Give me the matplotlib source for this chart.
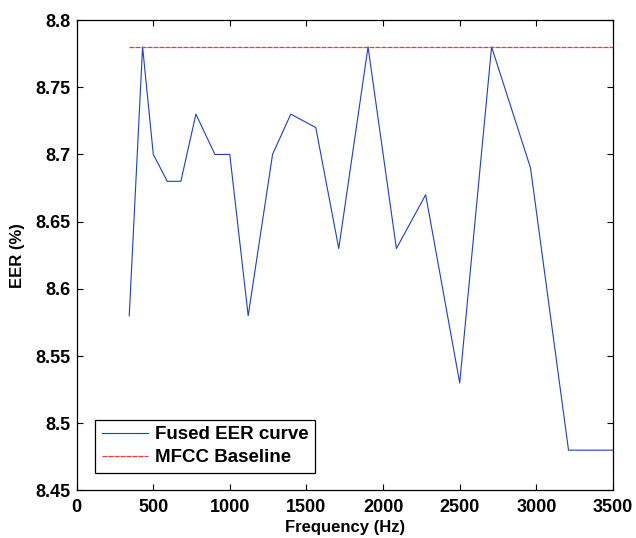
import matplotlib
matplotlib.use("Agg")
import matplotlib.pyplot as plt

freq = [344, 431, 501, 592, 681, 779, 903, 1000, 1120, 1279, 1398, 1561,
        1711, 1902, 2087, 2278, 2500, 2708, 2962, 3210, 3500]
eer = [8.58, 8.78, 8.70, 8.68, 8.68, 8.73, 8.70, 8.70, 8.58, 8.70, 8.73, 8.72,
       8.63, 8.78, 8.63, 8.67, 8.53, 8.78, 8.69, 8.48, 8.48]
baseline_x = [344, 3500]
baseline_y = [8.78, 8.78]
xticks = [0, 500, 1000, 1500, 2000, 2500, 3000, 3500]
yticks = [8.45, 8.5, 8.55, 8.6, 8.65, 8.7, 8.75, 8.8]
ytick_labels = ["8.45", "8.5", "8.55", "8.6", "8.65", "8.7", "8.75", "8.8"]

plt.rcParams['font.family'] = ['Liberation Sans', 'DejaVu Sans']
plt.rcParams['font.weight'] = 'bold'

fig = plt.figure(figsize=(6.36, 5.38), dpi=100)
ax = fig.add_axes([0.1203, 0.0883, 0.8435, 0.8745])

ax.plot(freq, eer, color='#1f3fbf', linewidth=0.8, label='Fused EER curve')
ax.plot(baseline_x, baseline_y, color='#ff3333', linewidth=0.9,
        linestyle=(0, (4, 0.8)), label='MFCC Baseline')

ax.set_xlim(0, 3500)
ax.set_ylim(8.45, 8.8)
ax.set_xticks(xticks)
ax.set_xticklabels([str(t) for t in xticks])
ax.set_yticks(yticks)
ax.set_yticklabels(ytick_labels)
ax.tick_params(direction='in', top=True, right=True, labelsize=13,
               length=4, width=0.8)
ax.tick_params(axis='x', pad=6)
ax.tick_params(axis='y', pad=4)
for lab in ax.get_xticklabels() + ax.get_yticklabels():
    lab.set_fontweight('bold')
for s in ax.spines.values():
    s.set_linewidth(0.9)

ax.set_xlabel('Frequency (Hz)', fontsize=12, fontweight='bold', labelpad=3)
ax.set_ylabel('EER (%)', fontsize=12, fontweight='bold', labelpad=8)

leg = ax.legend(loc='lower left', bbox_to_anchor=(0.0345, 0.0378),
                fontsize=13.5, frameon=True, fancybox=False, framealpha=1,
                edgecolor='black', handlelength=2.5, borderpad=0.35,
                labelspacing=0.3, handletextpad=0.35, borderaxespad=0)
leg.get_frame().set_linewidth(0.9)
for t in leg.get_texts():
    t.set_fontweight('bold')

fig.savefig('out.png', dpi=100)
